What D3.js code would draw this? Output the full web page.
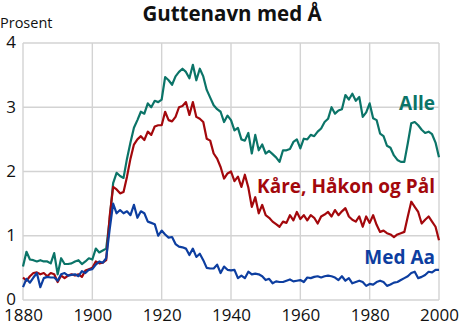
<!DOCTYPE html>
<html>
<head>
<meta charset="utf-8">
<script src="https://cdn.jsdelivr.net/npm/d3@7"></script>
<style>
  html, body { margin: 0; padding: 0; background: #fff; }
  svg { display: block; font-family: "Open Sans", "Noto Sans", sans-serif; }
</style>
</head>
<body>
<svg id="chart" width="459" height="326"></svg>
<script>
// Share of newborn boys (percent) given names containing Å, 1880–2000
const years = d3.range(1880, 2001);

const alle = [
  0.52, 0.75, 0.63, 0.62, 0.60, 0.62, 0.60, 0.60, 0.57, 0.73,
  0.40, 0.65, 0.56, 0.56, 0.57, 0.60, 0.62, 0.56, 0.60, 0.65,
  0.63, 0.80, 0.74, 0.77, 0.80, 1.25, 1.82, 1.98, 1.93, 1.90,
  2.20, 2.45, 2.68, 2.80, 2.93, 2.90, 3.06, 3.00, 3.10, 3.08,
  3.12, 3.47, 3.42, 3.35, 3.48, 3.55, 3.60, 3.55, 3.45, 3.66,
  3.42, 3.60, 3.48, 3.27, 3.15, 3.03, 2.97, 2.93, 2.77, 2.87,
  2.80, 2.64, 2.68, 2.50, 2.48, 2.60, 2.28, 2.57, 2.33, 2.42,
  2.28, 2.32, 2.27, 2.22, 2.15, 2.33, 2.33, 2.35, 2.46, 2.50,
  2.36, 2.51, 2.50, 2.57, 2.55, 2.62, 2.67, 2.77, 2.82, 3.00,
  2.90, 2.95, 2.97, 3.19, 3.12, 3.21, 3.10, 3.16, 2.85, 2.92,
  3.06, 2.83, 2.80, 2.59, 2.55, 2.40, 2.37, 2.25, 2.18, 2.15,
  2.15, 2.44, 2.75, 2.77, 2.72, 2.65, 2.60, 2.62, 2.58, 2.45,
  2.22
];

const kareHakonPal = [
  0.35, 0.30, 0.37, 0.42, 0.43, 0.40, 0.42, 0.37, 0.42, 0.40,
  0.28, 0.38, 0.34, 0.38, 0.40, 0.38, 0.40, 0.36, 0.46, 0.48,
  0.50, 0.60, 0.57, 0.58, 0.62, 1.30, 1.76, 1.72, 1.66, 1.68,
  1.92, 2.20, 2.42, 2.50, 2.55, 2.49, 2.62, 2.57, 2.70, 2.72,
  2.72, 2.93, 2.80, 2.78, 2.85, 3.00, 3.02, 3.08, 2.88, 3.08,
  2.85, 2.82, 2.77, 2.51, 2.48, 2.28, 2.20, 2.07, 1.89, 1.97,
  2.00, 1.85, 1.92, 1.76, 1.95, 1.75, 1.45, 1.60, 1.35, 1.48,
  1.32, 1.28, 1.22, 1.18, 1.14, 1.22, 1.20, 1.32, 1.24, 1.37,
  1.26, 1.32, 1.24, 1.32, 1.28, 1.19, 1.30, 1.33, 1.37, 1.30,
  1.40, 1.32, 1.38, 1.43, 1.30, 1.25, 1.22, 1.30, 1.14, 1.30,
  1.20, 1.32, 1.17, 1.06, 1.08, 1.04, 1.02, 0.98, 1.02, 1.04,
  1.06, 1.30, 1.53, 1.45, 1.37, 1.19, 1.25, 1.30, 1.22, 1.14,
  0.93
];

const medAa = [
  0.20, 0.33, 0.27, 0.35, 0.42, 0.20, 0.34, 0.36, 0.35, 0.35,
  0.30, 0.40, 0.42, 0.38, 0.39, 0.40, 0.37, 0.45, 0.42, 0.47,
  0.48, 0.55, 0.60, 0.58, 0.65, 1.10, 1.50, 1.35, 1.40, 1.35,
  1.38, 1.32, 1.48, 1.28, 1.38, 1.35, 1.22, 1.20, 1.18, 1.00,
  1.08, 1.02, 0.97, 0.98, 0.87, 0.83, 0.82, 0.80, 0.70, 0.80,
  0.67, 0.72, 0.62, 0.50, 0.49, 0.49, 0.55, 0.42, 0.52, 0.47,
  0.46, 0.47, 0.34, 0.38, 0.34, 0.44, 0.40, 0.41, 0.40, 0.37,
  0.31, 0.33, 0.26, 0.29, 0.28, 0.28, 0.30, 0.32, 0.29, 0.30,
  0.31, 0.28, 0.35, 0.34, 0.36, 0.37, 0.35, 0.37, 0.38, 0.37,
  0.35, 0.31, 0.37, 0.30, 0.34, 0.26, 0.28, 0.30, 0.28, 0.22,
  0.25, 0.24, 0.28, 0.30, 0.28, 0.22, 0.24, 0.27, 0.28, 0.31,
  0.34, 0.37, 0.42, 0.44, 0.34, 0.36, 0.39, 0.44, 0.43, 0.47,
  0.47
];

const xTicks = [1880, 1900, 1920, 1940, 1960, 1980, 2000];
const yTicks = [0, 1, 2, 3, 4];

const seriesNames = ["Alle", "Kåre, Håkon og Pål", "Med Aa"];
const seriesColors = ["#0b7468", "#a3080c", "#0d3ea0"];
const seriesValues = [alle, kareHakonPal, medAa];

const title = "Guttenavn med Å";
const yTitle = "Prosent";

const svg = d3.select("#chart");
const margin = { left: 23, right: 20, top: 43, bottom: 26 };
const W = 459, H = 326;

const x = d3.scaleLinear().domain([1880, 2000]).range([margin.left, W - margin.right]);
const y = d3.scaleLinear().domain([0, 4]).range([H - margin.bottom, margin.top]);

// grid
const grid = svg.append("g").attr("stroke", "#d3d3d3").attr("stroke-width", 1.4);
grid.selectAll("line.h").data(yTicks).join("line")
  .attr("x1", x(1880)).attr("x2", x(2000))
  .attr("y1", d => y(d)).attr("y2", d => y(d));
grid.selectAll("line.v").data(xTicks).join("line")
  .attr("y1", y(0)).attr("y2", y(4))
  .attr("x1", d => x(d)).attr("x2", d => x(d));

// axes (labels only)
const xAxis = svg.append("g")
  .attr("transform", `translate(0,${y(0)})`)
  .call(d3.axisBottom(x).tickValues(xTicks).tickFormat(d3.format("d")).tickSize(0).tickPadding(9));
xAxis.select(".domain").remove();
xAxis.selectAll("text").attr("font-size", 17).attr("fill", "#111").attr("font-family", "Open Sans");

const yAxis = svg.append("g")
  .attr("transform", `translate(${x(1880)},0)`)
  .call(d3.axisLeft(y).tickValues(yTicks).tickFormat(d3.format("d")).tickSize(0).tickPadding(7));
yAxis.select(".domain").remove();
yAxis.selectAll("text").attr("font-size", 17).attr("fill", "#111").attr("font-family", "Open Sans");
yAxis.selectAll("text").attr("dy", "0.28em");

// lines
const line = d3.line().x((d, i) => x(years[i])).y(d => y(d));
svg.append("g").selectAll("path").data(seriesValues).join("path")
  .attr("d", line)
  .attr("fill", "none")
  .attr("stroke", (d, i) => seriesColors[i])
  .attr("stroke-width", 2.2)
  .attr("stroke-linejoin", "round");

// series labels
const labelPos = [
  { yr: 2000, v: 2.95 },
  { yr: 2000, v: 1.66 },
  { yr: 2000, v: 0.56 }
];
svg.append("g").selectAll("text").data(seriesNames).join("text")
  .attr("x", (d, i) => x(labelPos[i].yr) - 4)
  .attr("y", (d, i) => y(labelPos[i].v))
  .attr("text-anchor", "end")
  .attr("font-size", 19)
  .attr("font-weight", "bold")
  .attr("fill", (d, i) => seriesColors[i])
  .text(d => d);

// title
svg.append("text")
  .attr("x", 232).attr("y", 21)
  .attr("text-anchor", "middle")
  .attr("font-size", 20.5)
  .attr("font-weight", "bold")
  .attr("fill", "#111")
  .text(title);

svg.append("text")
  .attr("x", 0).attr("y", 28)
  .attr("font-size", 14.5)
  .attr("fill", "#111")
  .text(yTitle);
</script>
</body>
</html>
